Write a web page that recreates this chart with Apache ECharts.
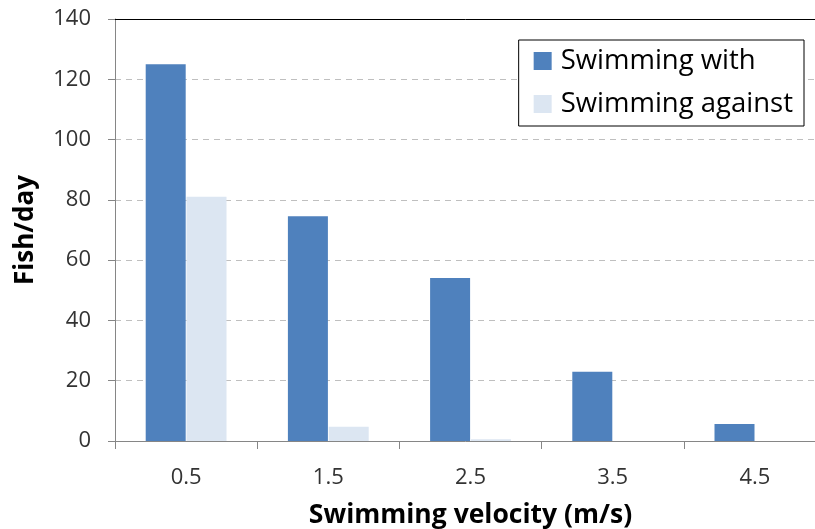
<!DOCTYPE html>
<html>
<head>
<meta charset="utf-8">
<script src="https://cdn.jsdelivr.net/npm/echarts@6/dist/echarts.min.js"></script>
<style>html,body{margin:0;padding:0;background:#fff}#c{width:815px;height:529px}</style>
</head>
<body>
<div id="c"></div>
<script>
var categories = ['0.5', '1.5', '2.5', '3.5', '4.5'];
var swimmingWith = [125, 74.6, 54.1, 23, 5.6];
var swimmingAgainst = [81, 4.7, 0.6, 0, 0];
var yTicks = { min: 0, max: 140, interval: 20 };

var chart = echarts.init(document.getElementById('c'));
var font = '"Open Sans", "Liberation Sans", sans-serif';
chart.setOption({
  animation: false,
  textStyle: { fontFamily: font },
  grid: { left: 115, width: 711, top: 19, bottom: 88, outerBoundsMode: 'none', containLabel: false },
  legend: {
    right: 11, top: 40,
    orient: 'vertical',
    backgroundColor: '#fff',
    borderColor: '#000', borderWidth: 1,
    padding: [6, 11, 7, 15],
    itemWidth: 18, itemHeight: 18, itemGap: 13,
    icon: 'rect',
    textStyle: { fontSize: 27.5, lineHeight: 30, color: '#000', fontFamily: font, padding: [0, 0, 0, 4] },
    data: ['Swimming with', 'Swimming against']
  },
  xAxis: [{
    type: 'category',
    data: categories,
    name: 'Swimming velocity (m/s)',
    nameLocation: 'middle',
    nameGap: 61,
    nameTextStyle: { fontSize: 26.5, fontWeight: 'bold', color: '#000', fontFamily: font },
    axisLine: { lineStyle: { color: '#868686', width: 1 } },
    axisTick: { show: true, length: 8, lineStyle: { color: '#868686' } },
    axisLabel: { fontSize: 22, color: '#333', margin: 26 },
    splitLine: { show: false }
  }, {
    type: 'category',
    position: 'top',
    data: categories,
    axisLine: { show: true, lineStyle: { color: '#000', width: 1 } },
    axisTick: { show: false },
    axisLabel: { show: false }
  }],
  yAxis: {
    type: 'value',
    min: yTicks.min, max: yTicks.max, interval: yTicks.interval,
    name: 'Fish/day',
    nameLocation: 'middle',
    nameGap: 76,
    nameTextStyle: { fontSize: 26, fontWeight: 'bold', color: '#000', fontFamily: font },
    axisLine: { show: true, lineStyle: { color: '#868686', width: 1 } },
    axisTick: { show: true, length: 7, lineStyle: { color: '#868686' } },
    axisLabel: { fontSize: 22, color: '#333', margin: 24 },
    splitLine: { show: true, lineStyle: { color: '#BFBFBF', type: [6, 5], width: 1 } }
  },
  series: [{
    name: 'Swimming with',
    type: 'bar',
    data: swimmingWith,
    barWidth: 40,
    barGap: '2%',
    itemStyle: { color: '#4F81BD' }
  }, {
    name: 'Swimming against',
    type: 'bar',
    data: swimmingAgainst,
    barWidth: 40,
    itemStyle: { color: '#DCE6F2' }
  }]
});
</script>
</body>
</html>
